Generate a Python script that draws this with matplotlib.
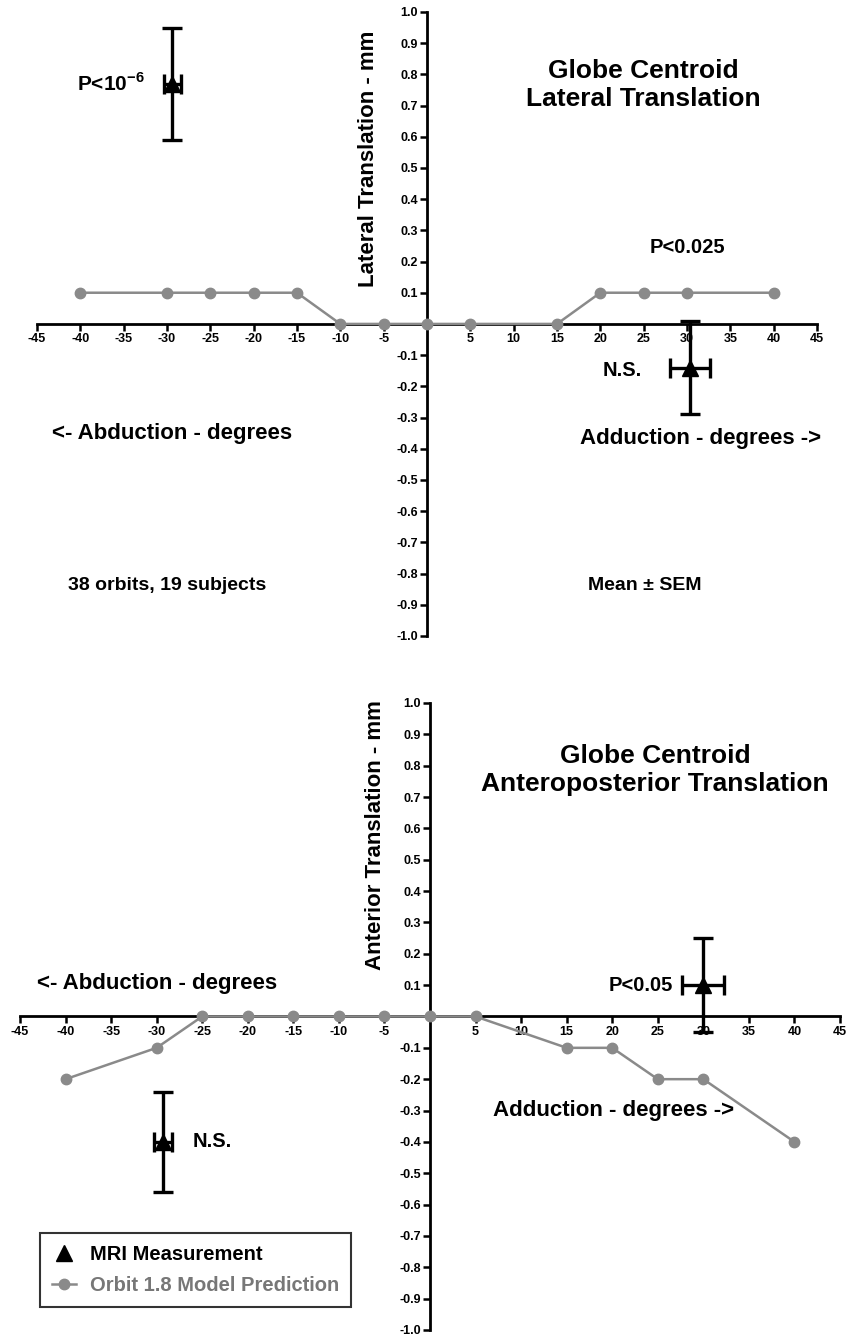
import numpy as np
import matplotlib
matplotlib.use('Agg')
import matplotlib.pyplot as plt
from matplotlib.lines import Line2D

plt.rcParams['font.family'] = ['Liberation Sans', 'DejaVu Sans']
plt.rcParams['font.weight'] = 'bold'
plt.rcParams['mathtext.fontset'] = 'custom'
plt.rcParams['mathtext.rm'] = 'Liberation Sans:bold'
plt.rcParams['mathtext.bf'] = 'Liberation Sans:bold'

# tick values (0 is not labelled)
angle_ticks = [-45, -40, -35, -30, -25, -20, -15, -10, -5, 5, 10, 15, 20, 25, 30, 35, 40, 45]
trans_ticks = [-1.0, -0.9, -0.8, -0.7, -0.6, -0.5, -0.4, -0.3, -0.2, -0.1,
               0.1, 0.2, 0.3, 0.4, 0.5, 0.6, 0.7, 0.8, 0.9, 1.0]

# lateral translation
model_x_lat = [-40, -30, -25, -20, -15, -10, -5, 0, 5, 15, 20, 25, 30, 40]
model_y_lat = [0.1, 0.1, 0.1, 0.1, 0.1, 0, 0, 0, 0, 0, 0.1, 0.1, 0.1, 0.1]
mri_x_lat = [-29.4, 30.3]
mri_y_lat = [0.77, -0.14]
mri_xerr_lat = [1.0, 2.3]
mri_yerr_lat = [0.18, 0.15]

# anteroposterior translation
model_x_ap = [-40, -30, -25, -20, -15, -10, -5, 0, 5, 15, 20, 25, 30, 40]
model_y_ap = [-0.2, -0.1, 0, 0, 0, 0, 0, 0, 0, -0.1, -0.1, -0.2, -0.2, -0.4]
mri_x_ap = [-29.3, 30.0]
mri_y_ap = [-0.40, 0.10]
mri_xerr_ap = [1.0, 2.3]
mri_yerr_ap = [0.16, 0.15]

GRAY = '#8a8a8a'


def fmt(v):
    return '%.1f' % v


def setup_axes(ax):
    ax.set_xlim(-45, 45)
    ax.set_ylim(-1.0, 1.0)
    for side in ['top', 'right']:
        ax.spines[side].set_visible(False)
    ax.spines['left'].set_position(('data', 0))
    ax.spines['bottom'].set_position(('data', 0))
    ax.spines['left'].set_linewidth(2)
    ax.spines['bottom'].set_linewidth(2)
    ax.set_xticks(angle_ticks)
    ax.set_xticklabels([str(t) for t in angle_ticks])
    ax.set_yticks(trans_ticks)
    ax.set_yticklabels([fmt(t) for t in trans_ticks])
    ax.tick_params(axis='both', direction='out', length=5, width=1.8,
                   labelsize=9, pad=1.5)
    for lab in ax.get_xticklabels() + ax.get_yticklabels():
        lab.set_fontweight('bold')


def draw(ax, mx, my, px, py, pxerr, pyerr):
    ax.plot(mx, my, color=GRAY, lw=1.8, marker='o', ms=7.5,
            zorder=3, clip_on=False)
    ax.errorbar(px, py, xerr=pxerr, yerr=pyerr, fmt='^', color='black',
                ms=11, elinewidth=2.4, capsize=7, capthick=2.4,
                zorder=4, clip_on=False)


fig = plt.figure(figsize=(8.46, 13.38), dpi=100)
ax1 = fig.add_axes([0.0437, 0.5247, 0.922, 0.4664])
ax2 = fig.add_axes([0.0236, 0.006, 0.9693, 0.4686])

for ax in (ax1, ax2):
    setup_axes(ax)

draw(ax1, model_x_lat, model_y_lat, mri_x_lat, mri_y_lat, mri_xerr_lat, mri_yerr_lat)
draw(ax2, model_x_ap, model_y_ap, mri_x_ap, mri_y_ap, mri_xerr_ap, mri_yerr_ap)

# top panel text
ax1.text(-6.8, 0.53, 'Lateral Translation - mm', rotation=90, ha='center',
         va='center', fontsize=16, fontweight='bold')
ax1.text(25, 0.767, 'Globe Centroid\nLateral Translation', ha='center',
         va='center', fontsize=19, fontweight='bold', linespacing=1.2)
ax1.text(-40.4, 0.77, r'P<10$^{-6}$', ha='left', va='center', fontsize=15)
ax1.text(30.0, 0.246, 'P<0.025', ha='center', va='center', fontsize=14.5)
ax1.text(22.5, -0.15, 'N.S.', ha='center', va='center', fontsize=14.5)
ax1.text(-29.4, -0.35, '<- Abduction - degrees', ha='center', va='center', fontsize=16)
ax1.text(31.6, -0.367, 'Adduction - degrees ->', ha='center', va='center', fontsize=16)
ax1.text(-30, -0.837, '38 orbits, 19 subjects', ha='center', va='center', fontsize=14)
ax1.text(25.1, -0.837, 'Mean \u00b1 SEM', ha='center', va='center', fontsize=14)

# bottom panel text
ax2.text(-6.0, 0.58, 'Anterior Translation - mm', rotation=90, ha='center',
         va='center', fontsize=16, fontweight='bold')
ax2.text(24.7, 0.785, 'Globe Centroid\nAnteroposterior Translation', ha='center',
         va='center', fontsize=19, fontweight='bold', linespacing=1.2)
ax2.text(-30, 0.105, '<- Abduction - degrees', ha='center', va='center', fontsize=16)
ax2.text(26.7, 0.10, 'P<0.05', ha='right', va='center', fontsize=14.5)
ax2.text(-26, -0.40, 'N.S.', ha='left', va='center', fontsize=14.5)
ax2.text(20.1, -0.30, 'Adduction - degrees ->', ha='center', va='center', fontsize=16)

handles = [Line2D([], [], color='black', marker='^', ls='none', ms=12),
           Line2D([], [], color=GRAY, marker='o', ls='-', lw=1.8, ms=7.5)]
leg = ax2.legend(handles, ['MRI Measurement', 'Orbit 1.8 Model Prediction'],
                 loc='lower left', bbox_to_anchor=(0.024, 0.037), borderaxespad=0,
                 fancybox=False, edgecolor='black',
                 handlelength=1.2, handletextpad=0.7, borderpad=0.6,
                 labelspacing=0.6, prop={'weight': 'bold', 'size': 14.5})
leg.get_frame().set_linewidth(1.5)
leg.get_texts()[1].set_color('#777777')

fig.savefig('out.png', dpi=100)
